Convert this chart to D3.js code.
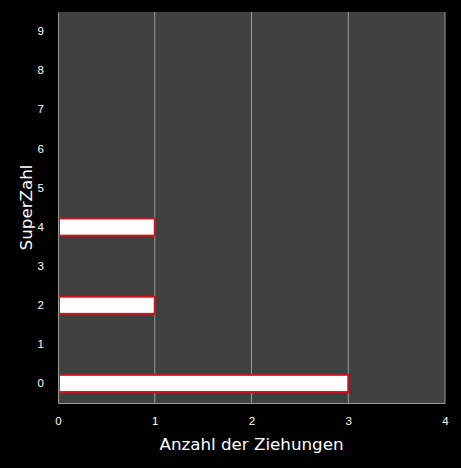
<!DOCTYPE html>
<html lang="de">
<head>
  <meta charset="utf-8">
  <title>SuperZahl</title>
  <style>
    html, body { margin:0; padding:0; width:100%; height:100%; overflow:hidden; background:#000; }
    svg { display:block; font-family:"Open Sans", sans-serif; }
    .tick text { fill:#fff; font-size:11.5px; }
    .title { fill:#fff; font-family:"DejaVu Sans", sans-serif; font-size:16.7px; }
  </style>
</head>
<body>
  <svg id="chart" width="461" height="468"></svg>
  <script src="https://d3js.org/d3.v7.min.js"></script>
  <script>
    // Daten
    const superZahlen = ["0","1","2","3","4","5","6","7","8","9"];
    const ziehungen   = [3, 0, 1, 0, 1, 0, 0, 0, 0, 0];
    const xTicks      = [0, 1, 2, 3, 4];

    const margin = {top:12, right:16, bottom:65, left:58};
    const width  = 461, height = 468;

    const svg = d3.select("#chart");

    const x = d3.scaleLinear().domain([0, 4]).range([margin.left, width - margin.right]);
    const y = d3.scaleBand().domain(superZahlen.slice().reverse())
      .range([margin.top, height - margin.bottom]).paddingInner(0.56).paddingOuter(0.28);

    // Plotfläche
    svg.append("rect")
      .attr("x", x(0)).attr("y", margin.top)
      .attr("width", x(4) - x(0)).attr("height", height - margin.bottom - margin.top)
      .attr("fill", "#404040");

    // Gitterlinien
    svg.append("g").selectAll("line")
      .data(xTicks.slice(1))
      .join("line")
      .attr("x1", d => x(d)).attr("x2", d => x(d))
      .attr("y1", margin.top).attr("y2", height - margin.bottom)
      .attr("stroke", "#9a9a9a").attr("stroke-width", 1);

    // Balken
    const data = superZahlen.map((k, i) => ({k, v: ziehungen[i]})).filter(d => d.v > 0);
    svg.append("g").selectAll("rect")
      .data(data)
      .join("rect")
      .attr("x", x(0) + 1)
      .attr("y", d => y(d.k))
      .attr("width", d => x(d.v) - x(0) - 1)
      .attr("height", y.bandwidth())
      .attr("fill", "#fff")
      .attr("stroke", "#c8141e")
      .attr("stroke-width", 2);

    // Achsen
    const xAxis = svg.append("g")
      .attr("transform", `translate(0,${height - margin.bottom})`)
      .call(d3.axisBottom(x).tickValues(xTicks).tickFormat(d3.format("d")).tickSize(0).tickPadding(14));
    xAxis.select(".domain").attr("stroke", "#9a9a9a");

    const yAxis = svg.append("g")
      .attr("transform", `translate(${margin.left},0)`)
      .call(d3.axisLeft(y).tickSize(0).tickPadding(14));
    yAxis.select(".domain").attr("stroke", "#9a9a9a");

    // Achsentitel
    svg.append("text")
      .attr("class", "title")
      .attr("x", (x(0) + x(4)) / 2).attr("y", 450)
      .attr("text-anchor", "middle")
      .text("Anzahl der Ziehungen");

    svg.append("text")
      .attr("class", "title")
      .attr("transform", `translate(32,${(margin.top + height - margin.bottom) / 2}) rotate(-90)`)
      .attr("text-anchor", "middle")
      .text("SuperZahl");
  </script>
</body>
</html>
